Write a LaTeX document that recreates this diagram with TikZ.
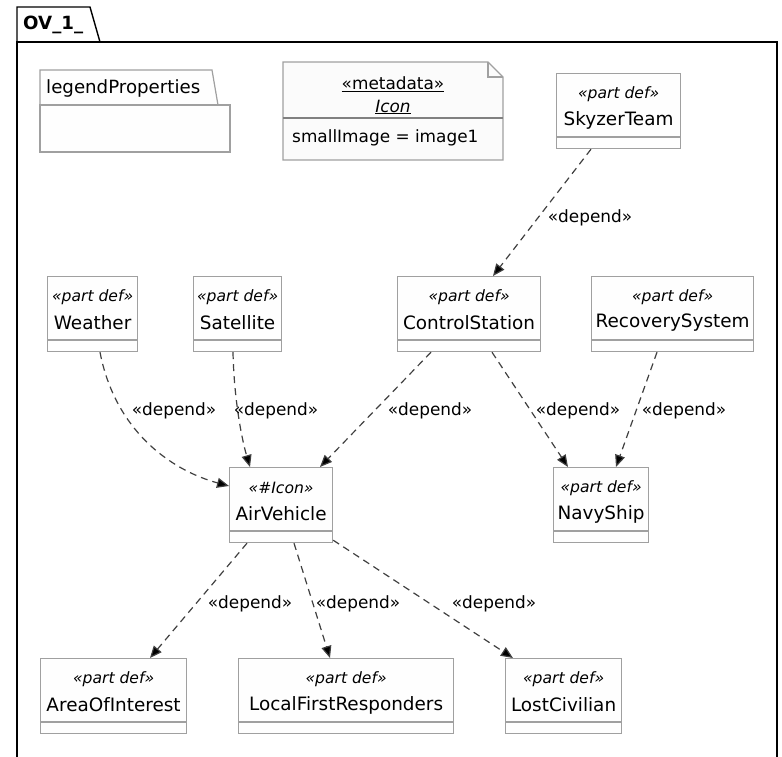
\documentclass[tikz,border=0pt]{standalone}
\usepackage{fontspec}
\setmainfont{DejaVu Sans}
\usetikzlibrary{arrows.meta,calc}
\definecolor{boxgray}{HTML}{A0A0A0}
\definecolor{boxfill}{HTML}{FEFEFE}
\definecolor{deplinec}{HTML}{404040}
\definecolor{notefill}{HTML}{FBFBFB}
\definecolor{notesep}{HTML}{808080}
\newcommand\fsz[1]{\fontsize{#1}{#1}\selectfont}
\newcommand\umlpart[6]{%
  \node[pbox, minimum width=#4pt, anchor=north west] (#1) at (#2,#3) {};
  \draw[psep] ([yshift=-64pt]#1.north west) -- ([yshift=-64pt]#1.north east);
  \node[stereotxt] (#1-st) at ([yshift=-21pt]#1.north) {#5};
  \node[nametxt] (#1-nm) at ([yshift=-47pt]#1.north) {#6};
}
\tikzset{
  pbox/.style={draw=boxgray, fill=boxfill, line width=1.2pt, minimum height=75pt, inner sep=0pt},
  psep/.style={draw=boxgray, line width=1.2pt},
  stereotxt/.style={font=\fsz{15.6}\itshape, inner sep=0pt},
  nametxt/.style={font=\fsz{18.4}, inner sep=0pt},
  dep/.style={draw=deplinec, line width=1.2pt, dash pattern=on 7pt off 5pt,
    -{Triangle[length=12pt,width=10pt,fill=black]}},
  deplbl/.style={font=\fsz{16.9}, inner sep=0pt, text=black},
  frame/.style={draw=black, line width=1.4pt},
  lightline/.style={draw=boxgray, line width=1.2pt, fill=boxfill},
}
\begin{document}
\begin{tikzpicture}[x=1pt,y=-1pt]
\useasboundingbox (0,0) rectangle (782,756);
\clip (0,0) rectangle (782,756);
% frame
\draw[frame] (17,42) -- (17,7) -- (90,7) -- (100,42);
\draw[frame] (17,42) rectangle (777,770);
\node[font=\fsz{18.2}\bfseries, anchor=west, inner sep=0pt] (title) at (23,25) {OV\_1\_};
% legend package
\draw[lightline] (40,105) -- (40,70) -- (212,70) -- (218,105);
\draw[lightline] (40,105) rectangle (230,152);
\node[font=\fsz{18.2}, anchor=west, inner sep=0pt] (legend) at (46,88) {legendProperties};
% metadata note
\draw[draw=boxgray, line width=1.2pt, fill=notefill] (283,62) -- (488,62) -- (503,77) -- (503,160) -- (283,160) -- cycle;
\draw[draw=boxgray, line width=1.2pt] (488,62) -- (488,77) -- (503,77);
\draw[draw=notesep, line width=1.4pt] (283,118) -- (503,118);
\node[font=\fsz{16.9}, inner sep=0pt] (meta) at (393,84) {\underline{«metadata»}};
\node[font=\fsz{16.9}\itshape, inner sep=0pt] (icon) at (393,107) {\underline{Icon}};
\node[font=\fsz{16.9}, anchor=west, inner sep=0pt] (attr) at (292,138) {smallImage = image1};
% parts
\umlpart{skyzer}{556}{73}{124}{«part def»}{SkyzerTeam}
\umlpart{weather}{47}{276}{90}{«part def»}{Weather}
\umlpart{satellite}{193}{276}{88}{«part def»}{Satellite}
\umlpart{cs}{397}{276}{143}{«part def»}{ControlStation}
\umlpart{rs}{591}{276}{162}{«part def»}{RecoverySystem}
\umlpart{av}{229}{467}{103}{«\#Icon»}{AirVehicle}
\umlpart{navy}{553}{467}{95}{«part def»}{NavyShip}
\umlpart{aoi}{40}{658}{146}{«part def»}{AreaOfInterest}
\umlpart{lfr}{238}{658}{215}{«part def»}{LocalFirstResponders}
\umlpart{lc}{505}{658}{116}{«part def»}{LostCivilian}
% dependencies
\draw[dep] ([xshift=35pt]skyzer.south west) -- ([xshift=96pt]cs.north west);
\node[deplbl] (l1) at (590,218) {«depend»};
\draw[dep] ([xshift=53pt]weather.south west) .. controls (115,430) and (170,470) .. ([yshift=-19pt]av.north west);
\node[deplbl] (l2) at (174,411) {«depend»};
\draw[dep] ([xshift=40pt]satellite.south west) .. controls (234,400) and (242,440) .. ([xshift=21pt]av.north west);
\node[deplbl] (l3) at (276,411) {«depend»};
\draw[dep] ([xshift=34pt]cs.south west) -- ([xshift=91pt]av.north west);
\node[deplbl] (l4) at (430,411) {«depend»};
\draw[dep] ([xshift=95pt]cs.south west) -- ([xshift=15pt]navy.north west);
\node[deplbl] (l5) at (578,411) {«depend»};
\draw[dep] ([xshift=66pt]rs.south west) -- ([xshift=63pt]navy.north west);
\node[deplbl] (l6) at (684,411) {«depend»};
\draw[dep] ([xshift=18pt]av.south west) -- ([xshift=110pt]aoi.north west);
\node[deplbl] (l7) at (250,604) {«depend»};
\draw[dep] ([xshift=65pt]av.south west) -- ([xshift=92pt]lfr.north west);
\node[deplbl] (l8) at (358,604) {«depend»};
\draw[dep] ([yshift=3pt]av.south east) -- ([xshift=8pt]lc.north west);
\node[deplbl] (l9) at (494,604) {«depend»};
\end{tikzpicture}
\end{document}
